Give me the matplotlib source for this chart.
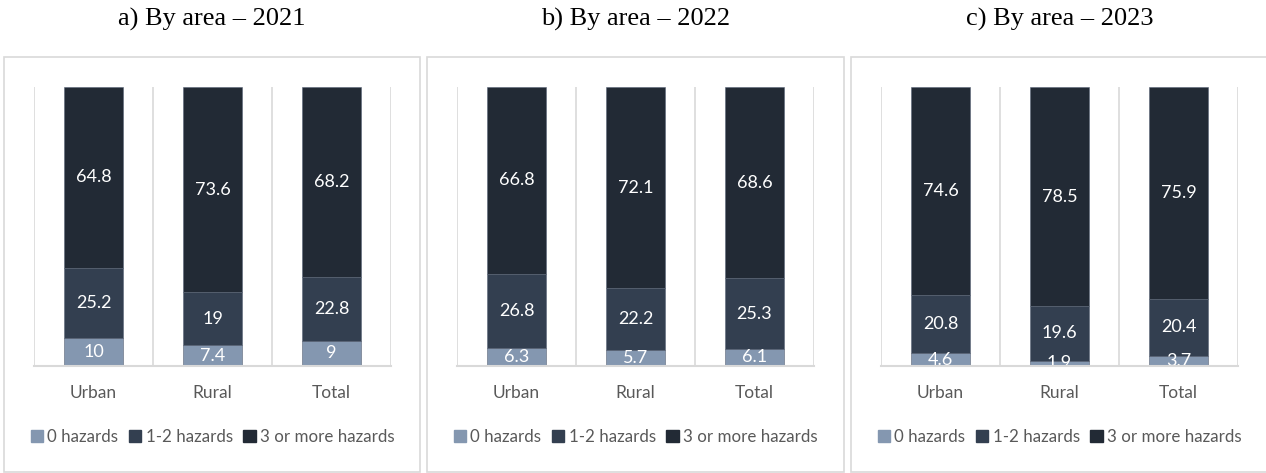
import matplotlib.pyplot as plt
import numpy as np
from matplotlib.patches import Rectangle, Patch

areas = ["Urban", "Rural", "Total"]
titles = ["a) By area – 2021", "b) By area – 2022", "c) By area – 2023"]
series = ["0 hazards", "1-2 hazards", "3 or more hazards"]

zero_hazards = [[10, 7.4, 9], [6.3, 5.7, 6.1], [4.6, 1.9, 3.7]]
one_two_hazards = [[25.2, 19, 22.8], [26.8, 22.2, 25.3], [20.8, 19.6, 20.4]]
three_plus_hazards = [[64.8, 73.6, 68.2], [66.8, 72.1, 68.6], [74.6, 78.5, 75.9]]

colors = ["#8497B0", "#333F50", "#222A35"]
grid_color = "#D9D9D9"
text_gray = "#595959"
body_font = ["Lato", "DejaVu Sans"]

W, H = 1266, 473
fig = plt.figure(figsize=(W / 100, H / 100), dpi=100)

# pixel layout of each panel: box left/right, axes left/right
boxes = [(4, 420), (427, 844), (851, 1268)]
axes_x = [(34, 391), (457, 814), (881, 1238)]
box_top, box_bottom = 57, 472
ax_top, ax_bottom = 87, 366

for i in range(3):
    bx0, bx1 = boxes[i]
    fig.patches.append(Rectangle((bx0 / W, 1 - box_bottom / H), (bx1 - bx0) / W,
                                 (box_bottom - box_top) / H, transform=fig.transFigure,
                                 facecolor="white", edgecolor=grid_color, linewidth=1.2,
                                 zorder=-1))
    fig.text((bx0 + bx1) / 2 / W, 1 - 19 / H, titles[i], ha="center", va="center",
             fontsize=19, family=["Liberation Serif"])

    x0, x1 = axes_x[i]
    ax = fig.add_axes([x0 / W, 1 - ax_bottom / H, (x1 - x0) / W, (ax_bottom - ax_top) / H])
    ax.patch.set_visible(False)
    ax.set_xlim(-0.5, 2.5)
    ax.set_ylim(0, 100)
    x = np.arange(len(areas))
    bottom = np.zeros(len(areas))
    for vals, c in zip([zero_hazards[i], one_two_hazards[i], three_plus_hazards[i]], colors):
        vals = np.array(vals, dtype=float)
        ax.bar(x, vals, width=0.5, bottom=bottom, color=c, edgecolor="#5A6577",
               linewidth=0.4, zorder=3)
        for xi, b, v in zip(x, bottom, vals):
            t = ax.text(xi, b + v / 2, f"{v:g}", ha="center", va="center", color="white",
                        fontsize=13, family=body_font, zorder=4)
            t.set_clip_on(True)
        bottom += vals

    for gx in [-0.5, 0.5, 1.5, 2.5]:
        ax.axvline(gx, color=grid_color, linewidth=1.2, zorder=1)
    for s in ax.spines.values():
        s.set_visible(False)
    ax.axhline(0, color=grid_color, linewidth=1.5, zorder=5, clip_on=False)
    ax.set_yticks([])
    ax.set_xticks(x)
    ax.set_xticklabels(areas, fontsize=12.5, color=text_gray, family=body_font)
    ax.tick_params(axis="x", length=0, pad=14)

    handles = [Patch(color=c) for c in colors]
    fig.legend(handles, series, loc="center", bbox_to_anchor=((x0 + x1) / 2 / W, 1 - 437 / H),
               ncol=3, frameon=False, handlelength=0.75, handleheight=0.75,
               handletextpad=0.25, columnspacing=0.6,
               prop={"family": body_font, "size": 12.2}, labelcolor=text_gray)

fig.savefig("out.png", dpi=100)
